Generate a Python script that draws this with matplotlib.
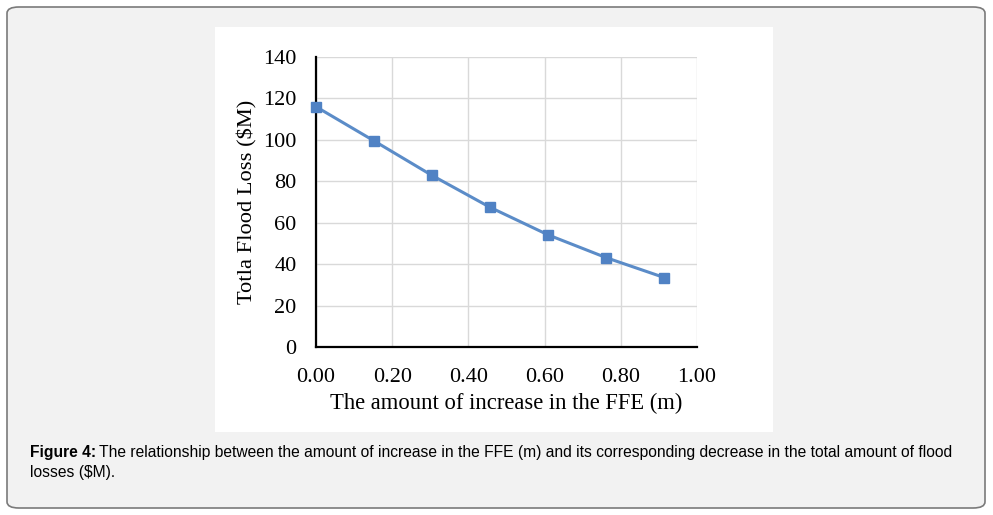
import matplotlib.pyplot as plt
from matplotlib.patches import FancyBboxPatch, Rectangle

# data (FFE increase in m, loss in $M)
ffe_increase = [0.0, 0.1524, 0.3048, 0.4572, 0.6096, 0.762, 0.9144]
flood_loss = [116.0, 99.5, 82.8, 67.4, 54.1, 43.1, 33.5]
x_ticks = [0.0, 0.2, 0.4, 0.6, 0.8, 1.0]
y_ticks = [0, 20, 40, 60, 80, 100, 120, 140]

fig = plt.figure(figsize=(9.93, 5.15), dpi=100)
fig.patch.set_facecolor('white')

# outer rounded frame
frame = FancyBboxPatch((7 / 993, 1 - 508 / 515), 978 / 993, 501 / 515,
                       boxstyle='round,pad=0,rounding_size=0.012',
                       transform=fig.transFigure, facecolor='#f2f2f2',
                       edgecolor='#7a7a7a', linewidth=1.2, zorder=-2)
fig.patches.append(frame)

# white panel behind the chart
panel = Rectangle((215 / 993, 1 - 432 / 515), 558 / 993, 405 / 515,
                  transform=fig.transFigure, facecolor='white',
                  edgecolor='none', zorder=-1)
fig.patches.append(panel)

ax = fig.add_axes([316 / 993, 1 - 347 / 515, 381 / 993, 290 / 515])
ax.set_zorder(2)
ax.set_facecolor('none')

ax.plot(ffe_increase, flood_loss, color='#5b8cc8', linewidth=2.2,
        marker='s', markersize=7.5, markerfacecolor='#5082c4',
        markeredgecolor='#5082c4', clip_on=False, zorder=3)

ax.set_xlim(0, 1.0)
ax.set_ylim(0, 140)
ax.set_xticks(x_ticks)
ax.set_yticks(y_ticks)
ax.set_xticklabels([f'{v:.2f}' for v in x_ticks])
ax.grid(True, color='#d9d9d9', linewidth=1.0)
ax.set_axisbelow(True)

for side in ['top', 'right']:
    ax.spines[side].set_visible(False)
for side in ['left', 'bottom']:
    ax.spines[side].set_linewidth(1.6)
    ax.spines[side].set_color('black')
    ax.spines[side].set_zorder(2.5)

serif = 'Liberation Serif'
ax.tick_params(length=0, labelsize=16)
for lab in ax.get_xticklabels() + ax.get_yticklabels():
    lab.set_fontfamily(serif)
ax.tick_params(axis='y', pad=14)
ax.tick_params(axis='x', pad=15)

ax.set_xlabel('The amount of increase in the FFE (m)', fontsize=16.3,
              fontfamily=serif, labelpad=4)
ax.set_ylabel('Totla Flood Loss ($M)', fontsize=16.2, fontfamily=serif,
              labelpad=4)

cap_size = 11.25
bold = fig.text(30 / 993, 1 - 453 / 515, 'Figure 4:', fontsize=cap_size,
                fontweight='bold', fontfamily='Liberation Sans',
                va='center', ha='left')
fig.canvas.draw()
bb = bold.get_window_extent()
fig.text((bb.x1 + 3) / 993, 1 - 453 / 515,
         'The relationship between the amount of increase in the FFE (m) '
         'and its corresponding decrease in the total amount of flood',
         fontsize=cap_size, fontfamily='Liberation Sans', va='center', ha='left')
fig.text(30 / 993, 1 - 472 / 515, 'losses ($M).', fontsize=cap_size,
         fontfamily='Liberation Sans', va='center', ha='left')

fig.savefig('out.png', dpi=100, facecolor='white')
